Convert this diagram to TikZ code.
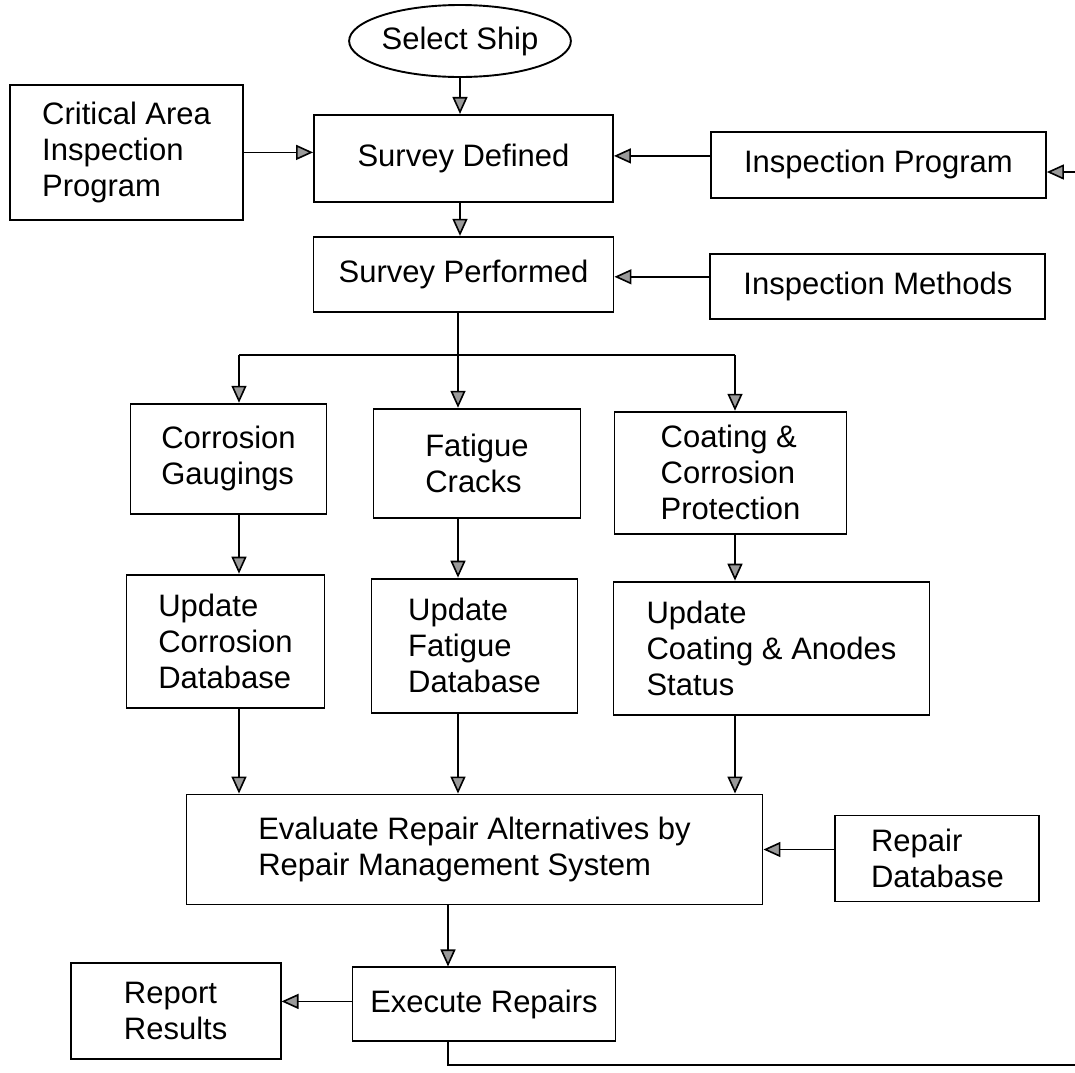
\documentclass[tikz,border=0pt]{standalone}
\usepackage{fontspec}
\setmainfont{Liberation Sans}
\usepackage{tikz}
\usetikzlibrary{positioning,arrows.meta,shapes.geometric}
\definecolor{tipgray}{HTML}{9A9A9A}

\begin{document}
\begin{tikzpicture}[x=1pt, y=1pt,
  sbox/.style={draw, line width=1.9pt, font=\fontsize{31}{36}\selectfont, align=left, inner sep=4pt},
  sstart/.style={ellipse, draw, line width=1.9pt, font=\fontsize{31}{36}\selectfont, inner sep=0pt, minimum width=214pt, minimum height=72pt},
  sline/.style={line width=1.6pt},
  sarrow/.style={-{Triangle[length=17pt, width=15pt, fill=tipgray]}, line width=1.6pt},
]
\useasboundingbox (0,0) rectangle (1075,-1072);
\node[sstart] (ship) at (460,-41) {Select Ship};
\node[sbox, minimum width=299pt, minimum height=87pt, below=36pt of ship, xshift=3.5pt] (defined) {Survey Defined};
\node[sbox, minimum width=233pt, minimum height=135pt, left=69pt of defined, yshift=6pt] (critical) {Critical Area\\ Inspection\\ Program};
\node[sbox, minimum width=335pt, minimum height=66pt, right=96pt of defined, yshift=-6.5pt] (program) {Inspection Program};
\node[sbox, minimum width=300pt, minimum height=75pt, below=33pt of defined] (performed) {Survey Performed};
\node[sbox, minimum width=335pt, minimum height=65pt, right=95pt of performed, yshift=-12pt] (methods) {Inspection Methods};
\node[sbox, minimum width=196pt, minimum height=110pt, below=90pt of performed, xshift=-235pt] (gaugings) {Corrosion\\ Gaugings};
\node[sbox, minimum width=207pt, minimum height=109pt, below=95pt of performed, xshift=13.5pt] (cracks) {Fatigue\\ Cracks};
\node[sbox, minimum width=232pt, minimum height=122pt, below=98pt of performed, xshift=267pt] (coating) {Coating \&\\ Corrosion\\ Protection};
\node[sbox, minimum width=198pt, minimum height=133pt, below=59pt of gaugings, xshift=-3pt] (updcorr) {Update\\ Corrosion\\ Database};
\node[sbox, minimum width=206pt, minimum height=134pt, below=59pt of cracks, xshift=-2.5pt] (updfat) {Update\\ Fatigue\\ Database};
\node[sbox, minimum width=316pt, minimum height=133pt, below=46pt of coating, xshift=41pt] (updcoat) {Update\\ Coating \& Anodes\\ Status};
\node[sbox, minimum width=576pt, minimum height=110pt, below=80pt of updfat] (evaluate) {Evaluate Repair Alternatives by\\ Repair Management System};
\node[sbox, minimum width=204pt, minimum height=86pt, right=71pt of evaluate, yshift=-9pt] (repairdb) {Repair\\ Database};
\node[sbox, minimum width=263pt, minimum height=74pt, below=61pt of evaluate, xshift=9.5pt] (execute) {Execute Repairs};
\node[sbox, minimum width=210pt, minimum height=96pt, left=70pt of execute, yshift=-7pt] (report) {Report\\ Results};
\coordinate (progin) at (1075,-172);
\coordinate (cola) at (239,-355);
\coordinate (colb) at (458,-355);
\coordinate (colc) at (735,-355);
\coordinate (exitx) at (448,-1065);
\coordinate (loopout) at (1075,-1065);
\draw[sarrow] (ship) -- (ship |- defined.north);
\draw[sarrow] (critical) -- (critical -| defined.west);
\draw[sarrow] ([yshift=9pt]program.west) -- ([yshift=9pt]program.west -| defined.east);
\draw[sarrow] (progin) -- (progin -| program.east);
\draw[sarrow] (defined.south -| ship) -- (performed.north -| ship);
\draw[sarrow] ([yshift=9.5pt]methods.west) -- ([yshift=9.5pt]methods.west -| performed.east);
\draw[sline] (performed.south -| colb) -- (colb);
\draw[sline] (cola) -- (colc);
\draw[sarrow] (cola) -- (cola |- gaugings.north);
\draw[sarrow] (colb) -- (colb |- cracks.north);
\draw[sarrow] (colc) -- (colc |- coating.north);
\draw[sarrow] (cola |- gaugings.south) -- (cola |- updcorr.north);
\draw[sarrow] (colb |- cracks.south) -- (colb |- updfat.north);
\draw[sarrow] (colc |- coating.south) -- (colc |- updcoat.north);
\draw[sarrow] (cola |- updcorr.south) -- (cola |- evaluate.north);
\draw[sarrow] (colb |- updfat.south) -- (colb |- evaluate.north);
\draw[sarrow] (colc |- updcoat.south) -- (colc |- evaluate.north);
\draw[sarrow] ([yshift=9pt]repairdb.west) -- ([yshift=9pt]repairdb.west -| evaluate.east);
\draw[sarrow] (exitx |- evaluate.south) -- (exitx |- execute.north);
\draw[sarrow] ([yshift=3pt]execute.west) -- ([yshift=3pt]execute.west -| report.east);
\draw[sline] (exitx |- execute.south) -- (exitx) -- (loopout);
\end{tikzpicture}
\end{document}
